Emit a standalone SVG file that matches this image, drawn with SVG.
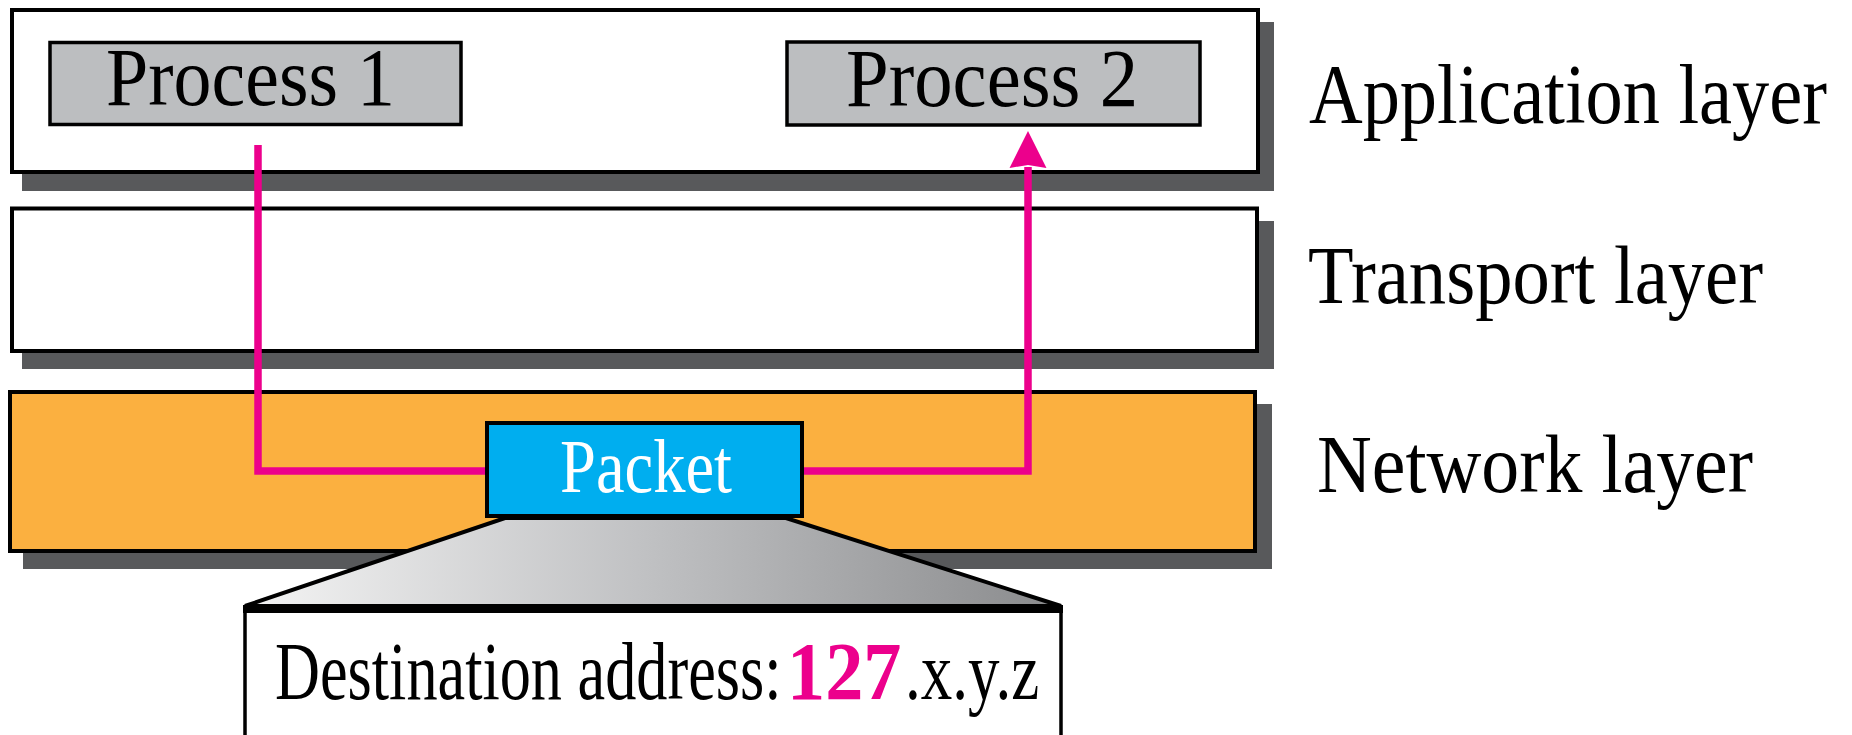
<svg xmlns="http://www.w3.org/2000/svg" width="1852" height="735" viewBox="0 0 1852 735">
<defs>
<style>
.shadow{fill:#58595B;}
.layer{stroke:#000;stroke-width:4;}
.proc{fill:#BCBEC0;stroke:#000;stroke-width:3.5;}
.lbl{font-family:"Liberation Serif","Times New Roman",serif;fill:#000;}
.conn{fill:none;stroke:#EC008C;stroke-width:7.5;}
</style>
<linearGradient id="zoomGrad" x1="0" y1="0" x2="1" y2="0">
<stop offset="0" stop-color="#F4F4F4"/>
<stop offset="0.5" stop-color="#BFC0C2"/>
<stop offset="1" stop-color="#8A8B8D"/>
</linearGradient>
<marker id="arrow" markerUnits="userSpaceOnUse" markerWidth="38" markerHeight="38" viewBox="0 0 37 36" refX="1" refY="18" orient="auto">
<path d="M0,0 L36,18 L0,36 L3,18 Z" fill="#EC008C"/>
</marker>
</defs>
<rect width="1852" height="735" fill="#fff"/>

<g id="application-layer">
<rect class="shadow" x="22" y="22" width="1252" height="169"/>
<rect class="layer" x="12" y="10" width="1246" height="162" fill="#fff"/>
<text class="lbl" transform="translate(1309,123) scale(1,1.15)" x="0" y="0" font-size="73" textLength="518" lengthAdjust="spacingAndGlyphs">Application layer</text>
</g>

<g id="transport-layer">
<rect class="shadow" x="22" y="221" width="1252" height="148"/>
<rect class="layer" x="12" y="208.5" width="1245" height="142.5" fill="#fff"/>
<text class="lbl" x="1308" y="303" font-size="83" textLength="455" lengthAdjust="spacingAndGlyphs">Transport layer</text>
</g>

<g id="network-layer">
<rect class="shadow" x="23" y="404" width="1249" height="165"/>
<rect class="layer" x="10" y="392" width="1245" height="159" fill="#FBB040"/>
<text class="lbl" x="1317" y="492" font-size="82" textLength="436" lengthAdjust="spacingAndGlyphs">Network layer</text>
</g>

<g id="process-1">
<rect class="proc" x="50" y="42.5" width="411" height="82"/>
<text class="lbl" x="106" y="105" font-size="82" textLength="289" lengthAdjust="spacingAndGlyphs">Process 1</text>
</g>

<g id="process-2">
<rect class="proc" x="787" y="42" width="413" height="83"/>
<text class="lbl" x="846" y="106" font-size="82" textLength="292" lengthAdjust="spacingAndGlyphs">Process 2</text>
</g>

<g id="connectors">
<path class="conn" d="M258,145 V471 H487"/>
<path class="conn" d="M802,471 H1028 V167" marker-end="url(#arrow)"/>
</g>

<g id="packet-zoom">
<polygon points="505,518 786,518 1061,606 245,606" fill="url(#zoomGrad)" stroke="#000" stroke-width="4" stroke-linejoin="miter"/>
</g>

<g id="packet">
<rect x="487" y="423" width="315" height="93" fill="#00AEEF" stroke="#000" stroke-width="4"/>
<text class="lbl" x="560" y="492" font-size="76" style="fill:#fff" textLength="172" lengthAdjust="spacingAndGlyphs">Packet</text>
</g>

<g id="destination">
<path d="M245,740 V608 H1061 V740" fill="#fff" stroke="#000" stroke-width="3.5"/>
<line x1="243" y1="609" x2="1063" y2="609" stroke="#000" stroke-width="8"/>
<text class="lbl" transform="translate(275,699) scale(0.75,1)" x="0" y="0" font-size="83">Destination address:</text>
<text class="lbl" transform="translate(787,699) scale(0.92,1)" x="0" y="0" font-size="83" font-weight="bold" style="fill:#EC008C">127</text>
<text class="lbl" transform="translate(905,699) scale(0.76,1)" x="0" y="0" font-size="83">.x.y.z</text>
</g>
</svg>
